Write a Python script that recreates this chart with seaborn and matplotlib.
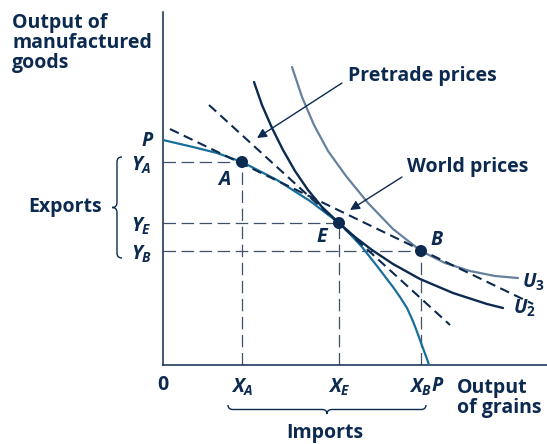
import numpy as np
import pandas as pd
import matplotlib
matplotlib.use("Agg")
import matplotlib.pyplot as plt
from matplotlib.path import Path
from matplotlib.patches import PathPatch
import seaborn as sns

# Curves (units = pixels from the origin)
ppf_x = [0, 30, 54, 79, 114, 147, 176, 187, 199, 214, 230, 237, 244, 249,
         253, 257, 261, 264, 266]
ppf_y = [225, 218, 212, 203, 185, 164, 142, 131, 118, 99, 78, 68, 57, 46,
         36, 25, 14, 6, 0]

u2_x = [91, 99, 109, 120, 132, 145, 159, 176, 192, 209, 230, 257, 290, 324, 340]
u2_y = [283, 260, 237, 215, 194, 175, 158, 142, 128, 115, 101, 86, 72, 61, 57]

u3_x = [129, 139, 151, 165, 183, 205, 230, 258, 282, 307, 332, 355]
u3_y = [298, 268, 240, 214, 189, 162, 136, 114, 102, 94, 89, 87]

# Price lines (end points)
world_x = [7, 370]
world_y = [236, 61]
pretrade_x = [46, 287]
pretrade_y = [260, 40]

# Labelled points
point_names = ["A", "E", "B"]
point_x = [79, 176, 258]
point_y = [203, 142, 114]
x_tick_labels = [r"$X_A$", r"$X_E$", r"$X_B$"]
y_tick_labels = [r"$Y_A$", r"$Y_E$", r"$Y_B$"]

NAVY = "#0c2a50"
TEAL = "#17709a"
GREYBLUE = "#66819d"
GUIDE = "#3f5269"

sns.set_style("white")
plt.rcParams["font.family"] = ["Open Sans", "DejaVu Sans"]
plt.rcParams["font.weight"] = "bold"
plt.rcParams["mathtext.fontset"] = "custom"
plt.rcParams["mathtext.it"] = "Open Sans:italic:bold"
plt.rcParams["mathtext.rm"] = "Open Sans:bold"
plt.rcParams["lines.scale_dashes"] = False

fig = plt.figure(figsize=(5.47, 4.44), dpi=100)
ax = fig.add_axes([163 / 547, 79 / 444, 384 / 547, 353 / 444])
ax.set_xlim(0, 384)
ax.set_ylim(0, 353)
ax.set_xticks([])
ax.set_yticks([])
for side in ["top", "right"]:
    ax.spines[side].set_visible(False)
for side in ["left", "bottom"]:
    ax.spines[side].set_color(NAVY)
    ax.spines[side].set_linewidth(1.1)

# guide lines to the axes
ax.hlines(point_y, 0, point_x, colors=GUIDE, linewidth=0.9,
          linestyles=[(0, (9, 4))], zorder=1)
ax.vlines(point_x, 0, point_y, colors=GUIDE, linewidth=0.9,
          linestyles=[(0, (9, 4))], zorder=1)

# curves
sns.lineplot(x=ppf_x, y=ppf_y, sort=False, estimator=None, color=TEAL,
             linewidth=1.6, ax=ax, zorder=3)
sns.lineplot(x=u3_x, y=u3_y, sort=False, estimator=None, color=GREYBLUE,
             linewidth=1.6, ax=ax, zorder=2)
sns.lineplot(x=u2_x, y=u2_y, sort=False, estimator=None, color=NAVY,
             linewidth=1.7, ax=ax, zorder=4)
sns.lineplot(x=world_x, y=world_y, sort=False, estimator=None, color=NAVY,
             linewidth=1.5, linestyle=(0, (7, 4)), ax=ax, zorder=5)
sns.lineplot(x=pretrade_x, y=pretrade_y, sort=False, estimator=None, color=NAVY,
             linewidth=1.5, linestyle=(0, (7, 4)), ax=ax, zorder=5)

sns.scatterplot(x=point_x, y=point_y, color=NAVY, s=75, edgecolor="none",
                ax=ax, zorder=6)

txt = dict(color=NAVY, fontsize=14, fontweight="bold")
ital = dict(color=NAVY, fontsize=14, fontweight="bold", fontstyle="italic")

# point labels
ax.text(61, 185, "A", ha="center", va="center", **ital)
ax.text(159, 128, "E", ha="center", va="center", **ital)
ax.text(274, 125, "B", ha="center", va="center", **ital)
ax.text(359, 83, r"$U_3$", ha="left", va="center", **txt)
ax.text(350, 57, r"$U_2$", ha="left", va="center", **txt)

# axis labels
ax.text(-151, 352, "Output of\nmanufactured\ngoods", ha="left", va="top",
        linespacing=1.0, clip_on=False, **txt)
ax.text(294, -33, "Output\nof grains", ha="left", va="center",
        linespacing=1.0, clip_on=False, **txt)
ax.text(0, -20, "0", ha="center", va="center", **txt)
ax.text(-10, 224, "P", ha="right", va="center", **ital)
ax.text(274, -21, "P", ha="center", va="center", **ital)

for xv, lab in zip(point_x, x_tick_labels):
    ax.text(xv, -22, lab, ha="center", va="center", **txt)
for yv, lab in zip(point_y, y_tick_labels):
    ax.text(-11, yv - 3, lab, ha="right", va="center", **txt)

# price line labels
ax.text(185, 289, "Pretrade prices", ha="left", va="center", **txt)
ax.text(244, 198, "World prices", ha="left", va="center", **txt)
ax.annotate("", xy=(94, 227), xytext=(179, 282),
            arrowprops=dict(arrowstyle="-|>", color=NAVY, lw=1.0,
                            mutation_scale=14, shrinkA=0, shrinkB=0))
ax.annotate("", xy=(187, 155), xytext=(239, 188),
            arrowprops=dict(arrowstyle="-|>", color=NAVY, lw=1.0,
                            mutation_scale=14, shrinkA=0, shrinkB=0))


def brace(a, b, base, depth, r, vertical):
    m = (a + b) / 2
    h = base - depth / 2
    tip = base - depth
    pts = [(a, base), (a, h), (a + r, h), (m - r, h), (m, h), (m, tip),
           (m, h), (m + r, h), (b - r, h), (b, h), (b, base)]
    codes = [Path.MOVETO, Path.CURVE3, Path.CURVE3, Path.LINETO,
             Path.CURVE3, Path.CURVE3, Path.CURVE3, Path.CURVE3,
             Path.LINETO, Path.CURVE3, Path.CURVE3]
    if vertical:
        pts = [(t, s) for s, t in pts]
    patch = PathPatch(Path(pts, codes), fill=False, edgecolor=NAVY,
                      linewidth=1.0, clip_on=False)
    ax.add_patch(patch)


brace(point_y[2] - 7, point_y[0] + 5, -41, 10, 5, vertical=True)
ax.text(-61, 158, "Exports", ha="right", va="center", **txt)
brace(point_x[0] - 14, point_x[2] + 5, -40, 9, 5, vertical=False)
ax.text(162, -68, "Imports", ha="center", va="center", **txt)

fig.savefig("out.png", dpi=100)
